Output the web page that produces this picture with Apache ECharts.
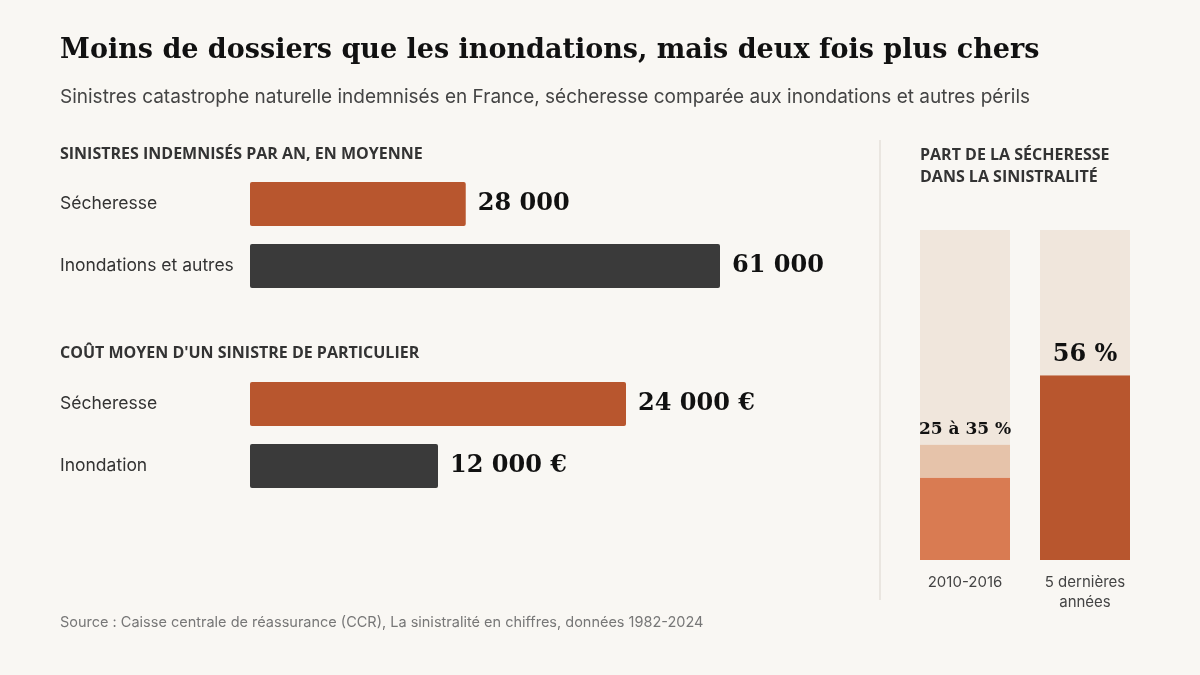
<!DOCTYPE html>
<html><head><meta charset="utf-8">
<script src="https://cdn.jsdelivr.net/npm/echarts@6/dist/echarts.min.js"></script>
<style>html,body{margin:0;background:#f9f7f3}#c{width:1200px;height:675px}</style>
</head><body><div id="c"></div>
<script>
const cat1 = ['Sécheresse', 'Inondations et autres'];
const val1 = [28000, 61000];
const lab1 = ['28 000', '61 000'];
const cat2 = ['Sécheresse', 'Inondation'];
const val2 = [24000, 12000];
const lab2 = ['24 000 €', '12 000 €'];
const cat3 = ['2010-2016', '5 dernières\nannées'];
const base3 = [25, 56];
const range3 = [10, 0];
const rest3 = [65, 44];
const topLab3 = ['25 à 35 %', '56 %'];

const C1 = '#b8562e', C2 = '#3a3a3a';
const serif = 'DejaVu Serif';
const sans = 'Inter';
const chart = echarts.init(document.getElementById('c'));
function hbar(vals, labs, cols, gi) {
  return {type:'bar', xAxisIndex:gi, yAxisIndex:gi, barWidth:44,
    data: vals.map((v,i)=>({value:v, itemStyle:{color:cols[i], borderRadius:2}})),
    label:{show:true, position:'right', distance:12, formatter:p=>labs[p.dataIndex],
      fontFamily:serif, fontWeight:'bold', fontSize:24, color:'#111'}};
}
const catAxis = (data, gi) => ({type:'category', gridIndex:gi, data, inverse:true,
  axisLine:{show:false}, axisTick:{show:false},
  axisLabel:{align:'left', margin:190, fontFamily:sans, fontSize:17.5, color:'#333'}});
const valAxis = (max, gi) => ({type:'value', gridIndex:gi, min:0, max, show:false});
chart.setOption({
  backgroundColor:'#f9f7f3',
  animation:false,
  title:[
    {text:'Moins de dossiers que les inondations, mais deux fois plus chers', left:55, top:32,
      textStyle:{fontFamily:serif, fontWeight:'bold', fontSize:27, color:'#111'}},
    {text:'Sinistres catastrophe naturelle indemnisés en France, sécheresse comparée aux inondations et autres périls', left:55, top:83,
      textStyle:{fontFamily:sans, fontWeight:'normal', fontSize:19, color:'#444'}},
  ],
  graphic:[
    {type:'text', left:60, top:146, style:{text:'SINISTRES INDEMNISÉS PAR AN, EN MOYENNE', font:'bold 16px "Open Sans"', fill:'#333'}},
    {type:'text', left:60, top:345, style:{text:"COÛT MOYEN D'UN SINISTRE DE PARTICULIER", font:'bold 16px "Open Sans"', fill:'#333'}},
    {type:'text', left:920, top:144, style:{text:'PART DE LA SÉCHERESSE\nDANS LA SINISTRALITÉ', font:'bold 16px "Open Sans"', fill:'#333', lineHeight:22}},
    {type:'line', shape:{x1:880, y1:140, x2:880, y2:600}, style:{stroke:'#e4e0da', lineWidth:1.5}},
    {type:'text', left:60, top:615, style:{text:'Source : Caisse centrale de réassurance (CCR), La sinistralité en chiffres, données 1982-2024', font:'14.5px Inter', fill:'#777'}},
  ],
  grid:[
    {left:250, top:173, width:470, height:124},
    {left:250, top:373, width:376, height:124},
    {left:905, top:230, width:240, height:330},
  ],
  xAxis:[valAxis(61000,0), valAxis(24000,1),
    {type:'category', gridIndex:2, data:cat3, axisLine:{show:false}, axisTick:{show:false},
     axisLabel:{margin:12, fontFamily:sans, fontSize:15, color:'#444', lineHeight:20}}],
  yAxis:[catAxis(cat1,0), catAxis(cat2,1), {type:'value', gridIndex:2, min:0, max:100, show:false}],
  series:[
    hbar(val1, lab1, [C1, C2], 0),
    hbar(val2, lab2, [C1, C2], 1),
    {type:'bar', xAxisIndex:2, yAxisIndex:2, stack:'s', barWidth:90,
      data: base3.map((v,i)=>({value:v, itemStyle:{color: i===0?'#d97b52':C1}})),
      label:{show:true, position:'top', distance:8, fontFamily:serif, fontWeight:'bold', fontSize:24, color:'#111',
        formatter:p=>p.dataIndex===1?topLab3[1]:''}},
    {type:'bar', xAxisIndex:2, yAxisIndex:2, stack:'s', barWidth:90, data:range3,
      itemStyle:{color:'#e6c3aa'},
      label:{show:true, position:'top', distance:6, fontFamily:serif, fontWeight:'bold', fontSize:17, color:'#111',
        formatter:p=>p.dataIndex===0?topLab3[0]:''}},
    {type:'bar', xAxisIndex:2, yAxisIndex:2, stack:'s', barWidth:90, data:rest3,
      itemStyle:{color:'#f0e6dc'}},
  ]
});
</script></body></html>
